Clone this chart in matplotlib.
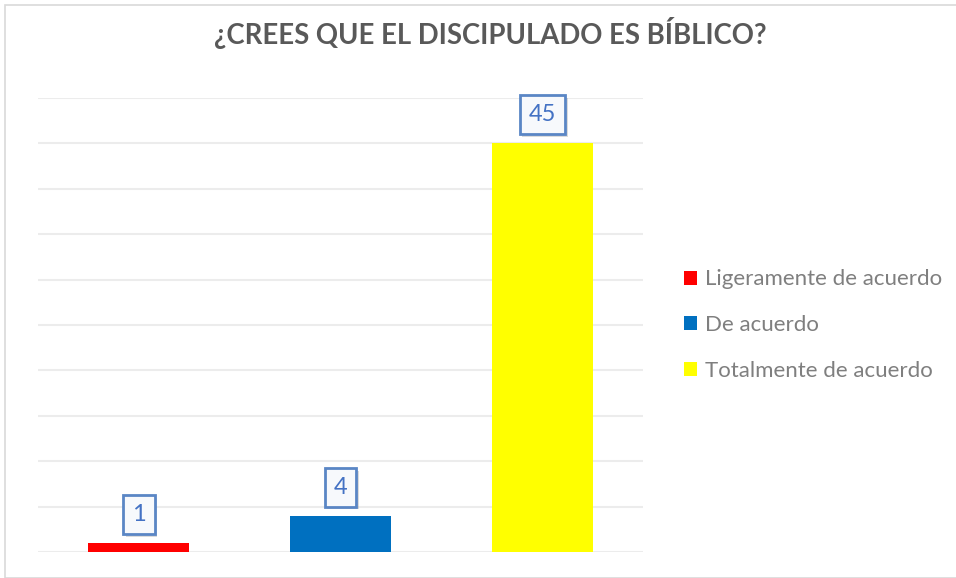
import matplotlib
matplotlib.use("Agg")
import matplotlib.pyplot as plt
from matplotlib.patches import Rectangle, Patch
import matplotlib.patheffects as pe

categories = ["Ligeramente de acuerdo", "De acuerdo", "Totalmente de acuerdo"]
values = [1, 4, 45]
colors = ["#FF0000", "#0070C0", "#FFFF00"]
title = "¿CREES QUE EL DISCIPULADO ES BÍBLICO?"

plt.rcParams['font.family'] = ['Lato', 'DejaVu Sans']

fig = plt.figure(figsize=(9.56, 5.78), dpi=100)
# outer border
fig.patches.append(Rectangle((5/956, 0.0), 1.0, 1 - 5/578, transform=fig.transFigure,
                             fill=False, edgecolor="#d9d9d9", linewidth=1.2))

ax = fig.add_axes([38/956, 1 - 552/578, (643 - 38)/956, (552 - 98)/578])
x = list(range(len(values)))
ax.bar(x, values, width=0.5, color=colors, zorder=2)
ax.set_xlim(-0.5, 2.5)
ax.set_ylim(0, 50)
ax.set_yticks(range(0, 51, 5))
ax.yaxis.grid(True, color="#ececec", linewidth=1.5, zorder=0)
ax.set_xticks([])
ax.tick_params(axis='y', left=False, labelleft=False)
for s in ax.spines.values():
    s.set_visible(False)

for xi, v in zip(x, values):
    t = ax.annotate(str(v), (xi, v), xytext=(0, 20.5), textcoords="offset points",
                    ha="center", va="center", fontsize=17, color="#4472C4",
                    bbox=dict(boxstyle="square,pad=0.38", facecolor="#f7f9fc",
                              edgecolor="#5a86c5", linewidth=2),
                    zorder=4, annotation_clip=False)
    t.get_bbox_patch().set_path_effects([
        pe.SimplePatchShadow(offset=(2, -2), shadow_rgbFace="#9a9a9a", alpha=0.35),
        pe.Normal()])

fig.text(490/956, 1 - 33/578, title, ha="center", va="center", fontsize=19.8,
         fontweight="bold", color="#595959")

handles = [Patch(facecolor=c, edgecolor="none") for c in colors]
leg = fig.legend(handles, categories, loc="center left", bbox_to_anchor=(664/956, 1 - 325/578),
                 frameon=False, fontsize=16, labelcolor="#7f7f7f", handlelength=0.6,
                 handleheight=0.6, handletextpad=0.35, labelspacing=1.15)

fig.savefig("out.png", dpi=100)
